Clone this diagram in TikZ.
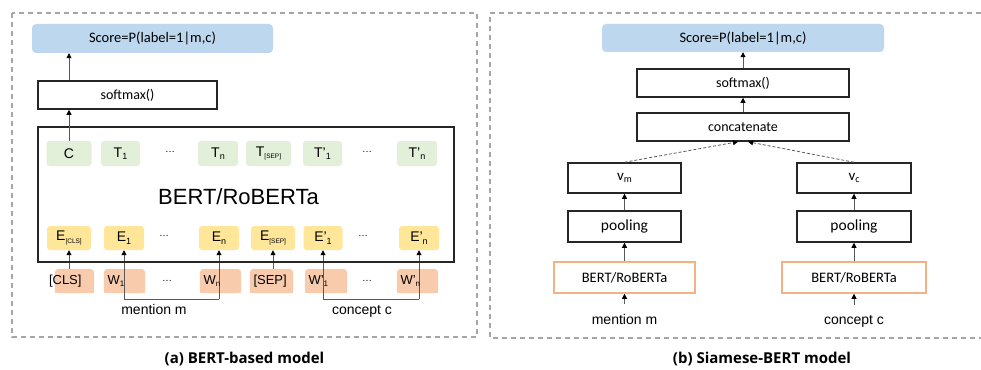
\documentclass[tikz,border=0pt]{standalone}
\usepackage{fontspec}
\setmainfont{Liberation Sans}
\newfontfamily\calfont{Carlito}
\newfontfamily\capfont{Open Sans}
\usetikzlibrary{arrows.meta,backgrounds}

\definecolor{scoreblue}{HTML}{BDD7EE}
\definecolor{tgreen}{HTML}{E2F0D9}
\definecolor{eyellow}{HTML}{FFE699}
\definecolor{wsalmon}{HTML}{F8CBAD}
\definecolor{bertorange}{HTML}{F4B183}
\definecolor{framegray}{HTML}{A6A6A6}
\definecolor{linegray}{HTML}{595959}

\newcommand\setsz[1]{\fontsize{#1}{#1}\selectfont}
\newcommand\lowsub[2][9]{\raisebox{-0.35ex}{\setsz{#1}#2}}

\tikzset{
  frame/.style={draw=framegray, line width=1.2pt, dash pattern=on 5pt off 4pt},
  scorebox/.style={fill=scoreblue, rounded corners=4pt, inner sep=0pt,
    font=\calfont\setsz{14.5}},
  plainbox/.style={draw=black!85, line width=1.5pt, inner sep=0pt,
    font=\calfont\setsz{14}},
  bertbox/.style={draw=bertorange, line width=1.5pt, inner sep=0pt,
    font=\calfont\setsz{14.5}},
  tbox/.style={fill=tgreen, rounded corners=3pt, minimum height=25pt,
    inner sep=0pt, font=\setsz{14}},
  ebox/.style={fill=eyellow, rounded corners=3pt, minimum height=24pt,
    inner sep=0pt, font=\setsz{14}},
  wbox/.style={minimum height=24pt, inner ysep=0pt, inner xsep=3.5pt,
    align=left, font=\setsz{13}},
  dotsnode/.style={font=\setsz{10}, inner sep=0pt},
  plaintext/.style={font=\setsz{14}, anchor=base},
  caption/.style={font=\capfont\bfseries\setsz{15}, anchor=base},
  arr/.style={draw=linegray, line width=0.8pt,
    -{Triangle[width=5pt,length=5pt,color=black]}},
  darr/.style={arr, dash pattern=on 3pt off 2pt},
  brk/.style={draw=linegray, line width=0.8pt},
}

\begin{document}
\begin{tikzpicture}[x=1pt, y=-1pt]
\useasboundingbox (0,0) rectangle (981,369);

% dashed panel frames
\draw[frame] (12,13) rectangle (477,337);
\draw[frame] (990,13) -| (490,338) -- (990,338);

% ---------------- (a) BERT-based model ----------------
\node[scorebox, minimum width=241pt, minimum height=29pt] (scoreA) at (152.5,38.5) {Score=P(label=1|m,c)};
\node[plainbox, minimum width=179pt, minimum height=28pt] (softA) at (127.5,95) {softmax()};
\node[draw=black!85, line width=1.5pt, minimum width=416pt, minimum height=135pt, inner sep=0pt] (bertA) at (246,194.5) {};
\node[font=\setsz{22}] (bertAlbl) at (238.5,197) {BERT/RoBERTa};

% output tokens
\node[tbox, minimum width=45pt] (tc)   at (69,153.5)    {C};
\node[tbox, minimum width=39pt] (t1)   at (120.5,153.5) {T\lowsub{1}};
\node[dotsnode]                 (tdA)  at (170,152)     {…};
\node[tbox, minimum width=40pt] (tn)   at (218,153.5)   {T\lowsub{n}};
\node[tbox, minimum width=45pt] (tsep) at (268.5,153.5) {T\lowsub[6.5]{[SEP]}};
\node[tbox, minimum width=39pt] (tp1)  at (322.5,153.5) {T'\lowsub{1}};
\node[dotsnode]                 (tdB)  at (367,152)     {…};
\node[tbox, minimum width=40pt] (tpn)  at (417,153.5)   {T'\lowsub{n}};

% embeddings
\node[ebox, minimum width=44pt] (ecls) at (69,238)    {E\lowsub[6.5]{[CLS]}};
\node[ebox, minimum width=40pt] (e1)   at (124,238)   {E\lowsub{1}};
\node[dotsnode]                 (edA)  at (164,236)   {…};
\node[ebox, minimum width=40pt] (en)   at (219,238)   {E\lowsub{n}};
\node[ebox, minimum width=44pt] (esep) at (273,238)   {E\lowsub[6.5]{[SEP]}};
\node[ebox, minimum width=39pt] (ep1)  at (323,238)   {E'\lowsub{1}};
\node[dotsnode]                 (edB)  at (363,236)   {…};
\node[ebox, minimum width=40pt] (epn)  at (419,238)   {E'\lowsub{n}};

% input tokens
\node[wbox, text width=39pt, inner xsep=0pt] (wcls) at (74.5,281) {\hspace*{-6pt}[CLS]};
\node[wbox, text width=34pt] (w1)   at (124.5,281) {W\lowsub[8]{1}};
\node[dotsnode]              (wdA)  at (167,281)   {…};
\node[wbox, text width=34pt] (wn)   at (220.5,281) {W\lowsub[8]{n}};
\node[wbox, text width=36pt] (wsep) at (271.5,281) {[SEP]};
\node[wbox, text width=35pt] (wp1)  at (326,281)   {W'\lowsub[8]{1}};
\node[dotsnode]              (wdB)  at (367,281)   {…};
\node[wbox, text width=34pt] (wpn)  at (417.5,281) {W'\lowsub[8]{n}};

% brackets grouping the mention and concept tokens
\coordinate (mb1) at (124,299);
\coordinate (mb2) at (219,299);
\coordinate (cb1) at (323,299);
\coordinate (cb2) at (419,299);
\node[plaintext] (mentionA) at (154,314) {mention m};
\node[plaintext] (conceptA) at (362,314) {concept c};

% input token backgrounds (rounded top, square bottom) and the
% lines running behind the token labels
\begin{scope}[on background layer]
  \foreach \n in {wcls,w1,wn,wsep,wp1,wpn}{
    \fill[wsalmon, rounded corners=4pt] (\n.south west) rectangle (\n.north east);
    \fill[wsalmon] (\n.south west) rectangle (\n.east);
  }
  \draw[brk] (mb1) -- (mb2);
  \draw[brk] (cb1) -- (cb2);
  \draw[arr] (wcls.north -| ecls.south) -- (ecls.south);
  \draw[arr] (mb1) -- (e1.south);
  \draw[arr] (mb2) -- (en.south);
  \draw[arr] (wsep.north -| esep.south) -- (esep.south);
  \draw[arr] (cb1) -- (ep1.south);
  \draw[arr] (cb2) -- (epn.south);
\end{scope}

% classification head
\draw[arr] (tc.north) -- (tc.north |- softA.south);
\draw[arr] (softA.north -| tc.north) -- (scoreA.south -| tc.north);

\node[caption] (capA) at (244.5,363) {(a) BERT-based model};

% ---------------- (b) Siamese-BERT model ----------------
\node[scorebox, minimum width=282pt, minimum height=28pt] (scoreB) at (743,38) {Score=P(label=1|m,c)};
\node[plainbox, minimum width=212pt, minimum height=28pt] (softB) at (743,83) {softmax()};
\node[plainbox, minimum width=212pt, minimum height=28pt] (concB) at (743,127) {concatenate};

\node[plainbox, minimum width=113pt, minimum height=30pt, font=\calfont\setsz{15}] (vm) at (624.5,178) {v\lowsub[10]{m}};
\node[plainbox, minimum width=114pt, minimum height=30pt, font=\calfont\setsz{15}] (vc) at (854,178) {v\lowsub[10]{c}};
\node[plainbox, minimum width=113pt, minimum height=31pt, font=\calfont\setsz{15.5}] (poolm) at (624.5,226.5) {pooling};
\node[plainbox, minimum width=114pt, minimum height=31pt, font=\calfont\setsz{15.5}] (poolc) at (854,226.5) {pooling};
\node[bertbox, minimum width=141pt, minimum height=31pt] (bertm) at (624.5,277.5) {BERT/RoBERTa};
\node[bertbox, minimum width=144pt, minimum height=31pt] (bertc) at (854,277.5) {BERT/RoBERTa};

\node[plaintext] (mentionB) at (624.5,324) {mention m};
\node[plaintext] (conceptB) at (854,324) {concept c};

\draw[arr] (softB.north) -- (scoreB.south);
\draw[arr] (concB.north) -- (softB.south);
\draw[darr] (vm.north) -- ([xshift=-5pt]concB.south);
\draw[darr] (vc.north) -- ([xshift=5pt]concB.south);
\draw[arr] (poolm.north) -- (vm.south);
\draw[arr] (poolc.north) -- (vc.south);
\draw[arr] (bertm.north) -- (poolm.south);
\draw[arr] (bertc.north) -- (poolc.south);
\draw[arr] ([yshift=6pt]mentionB.north) -- (bertm.south);
\draw[arr] ([yshift=6pt]conceptB.north) -- (bertc.south);

\node[caption] (capB) at (762,363) {(b) Siamese-BERT model};
\end{tikzpicture}
\end{document}
